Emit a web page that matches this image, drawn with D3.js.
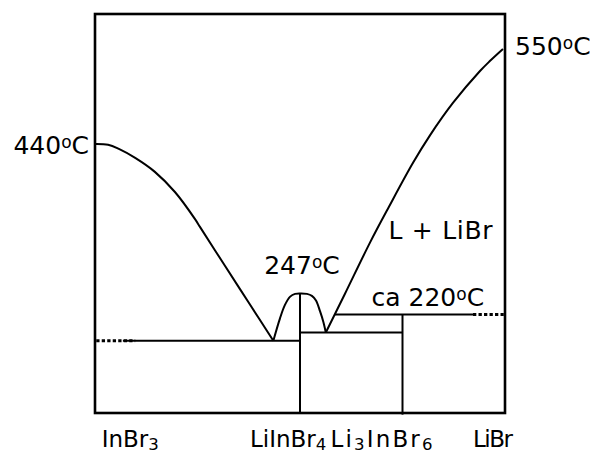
<!DOCTYPE html>
<html>
<head>
<meta charset="utf-8">
<script src="https://cdn.jsdelivr.net/npm/d3@7"></script>
<style>
  html, body { margin: 0; padding: 0; background: #fff; }
  svg { display: block; font-family: "DejaVu Sans", Verdana, sans-serif; }
</style>
</head>
<body>
<svg id="chart" width="593" height="454"></svg>
<script>
// Schematic phase diagram of the InBr3 – LiBr system.
// Composition: mole fraction of LiBr (0 = InBr3, 1 = LiBr); temperature in °C.

const compounds = ["InBr3", "LiInBr4", "Li3InBr6", "LiBr"];
const compoundX = [0, 0.5, 0.75, 1];

// Liquidus branches as [mole fraction LiBr, temperature]
const liquidusInBr3 = [
  [0, 440], [0.032, 439], [0.057, 434], [0.098, 422], [0.146, 404],
  [0.195, 378], [0.244, 343], [0.256, 333], [0.313, 286], [0.374, 236],
  [0.435, 188]
];
const liquidusLiInBr4 = [
  [0.435, 188], [0.451, 215], [0.463, 232], [0.476, 243], [0.488, 246.5],
  [0.502, 247], [0.517, 246.5], [0.529, 244], [0.539, 238], [0.549, 224],
  [0.557, 211], [0.563, 198]
];
const liquidusLiBr = [
  [0.563, 198], [0.610, 247], [0.671, 313], [0.717, 359], [0.776, 416],
  [0.817, 450], [0.873, 487.5], [0.939, 524.5], [0.963, 536], [0.995, 550]
];

// Invariant (horizontal) lines: [x from, x to, temperature]
const invariantSolid = [[0.068, 0.5, 188], [0.5, 0.75, 198], [0.585, 0.922, 220]];
const invariantDotted = [[0.003, 0.098, 188], [0.922, 0.997, 220]];

// Compound verticals: [x, top temperature, bottom temperature]
const compoundLines = [[0.5, 247, 100], [0.75, 220, 98]];

// Temperature annotations
const tempValues = [440, 550, 247, 220];
const tempPrefix = ["", "", "", "ca "];

// Phase field label
const fieldLabel = "L + LiBr";
const fieldPos = [0.716, 317];

// ---- layout ----
const svg = d3.select("#chart");
const frame = { left: 95, right: 505 };

const x = d3.scaleLinear().domain([0, 1]).range([frame.left, frame.right]);
// the temperature axis of the sketch is not uniform, so it is mapped piecewise
const y = d3.scaleLinear()
  .domain([100, 220, 247, 440, 550, 590])
  .range([413, 314.5, 293.5, 144, 49, 14]);

const smooth = d3.line()
  .x(d => x(d[0])).y(d => y(d[1]))
  .curve(d3.curveCatmullRom.alpha(0.5));

// frame
svg.append("rect")
  .attr("x", x(0)).attr("y", y(590))
  .attr("width", x(1) - x(0)).attr("height", y(100) - y(590))
  .attr("fill", "none").attr("stroke", "#000").attr("stroke-width", 2.6);

// invariant lines
svg.append("g").selectAll("line").data(invariantSolid).join("line")
  .attr("x1", d => x(d[0])).attr("x2", d => x(d[1]))
  .attr("y1", d => y(d[2])).attr("y2", d => y(d[2]))
  .attr("stroke", "#000").attr("stroke-width", 2);

svg.append("g").selectAll("line").data(invariantDotted).join("line")
  .attr("x1", d => x(d[0])).attr("x2", d => x(d[1]))
  .attr("y1", d => y(d[2])).attr("y2", d => y(d[2]))
  .attr("stroke", "#000").attr("stroke-width", 3)
  .attr("stroke-dasharray", "3.3,2.2");

// compound verticals
svg.append("g").selectAll("line").data(compoundLines).join("line")
  .attr("x1", d => x(d[0])).attr("x2", d => x(d[0]))
  .attr("y1", d => y(d[1])).attr("y2", d => y(d[2]))
  .attr("stroke", "#000").attr("stroke-width", 2);

// liquidus curves
[liquidusInBr3, liquidusLiInBr4, liquidusLiBr].forEach(pts => {
  svg.append("path").attr("d", smooth(pts))
    .attr("fill", "none").attr("stroke", "#000").attr("stroke-width", 2)
    .attr("stroke-linejoin", "round");
});

// ---- text ----
const tempFont = 25;

function tempLabel(prefix, value, px, py, anchor) {
  const t = svg.append("text")
    .attr("x", px).attr("y", py)
    .attr("text-anchor", anchor)
    .attr("font-size", tempFont).attr("fill", "#000");
  t.append("tspan").text(prefix + value);
  t.append("tspan").attr("font-size", tempFont * 0.68).attr("dy", -6).text("o");
  t.append("tspan").attr("dy", 6).text("C");
  return t;
}

// placement of each temperature annotation relative to its point
const tempPlace = [
  { px: x(0) - 6, py: y(440) + 10, anchor: "end" },
  { px: x(1) + 10, py: y(550) + 6, anchor: "start" },
  { px: x(0.5) + 2, py: y(247) - 19.5, anchor: "middle" },
  { px: 371.5, py: y(220) - 8.5, anchor: "start" }
];
tempValues.forEach((v, i) => {
  const p = tempPlace[i];
  tempLabel(tempPrefix[i], v, p.px, p.py, p.anchor);
});

svg.append("text")
  .attr("x", x(fieldPos[0])).attr("y", y(fieldPos[1]))
  .attr("font-size", tempFont).attr("fill", "#000")
  .attr("textLength", 104).attr("lengthAdjust", "spacing")
  .text(fieldLabel);

// compound names along the bottom, digits as subscripts
const labelFont = 23;
const labelShift = [6.7, -50, -72, -32];
const labelWidth = [null, null, 102, 40];
compounds.forEach((name, i) => {
  const t = svg.append("text")
    .attr("x", x(compoundX[i]) + labelShift[i]).attr("y", 447)
    .attr("font-size", labelFont).attr("fill", "#000");
  if (labelWidth[i]) t.attr("textLength", labelWidth[i]).attr("lengthAdjust", "spacing");
  const parts = name.match(/[A-Za-z]+|\d+/g);
  let down = false;
  parts.forEach(p => {
    const ts = t.append("tspan").text(p);
    if (/\d/.test(p)) {
      ts.attr("font-size", labelFont * 0.72).attr("dy", 3);
      down = true;
    } else if (down) {
      ts.attr("dy", -3);
      down = false;
    }
  });
});
</script>
</body>
</html>
